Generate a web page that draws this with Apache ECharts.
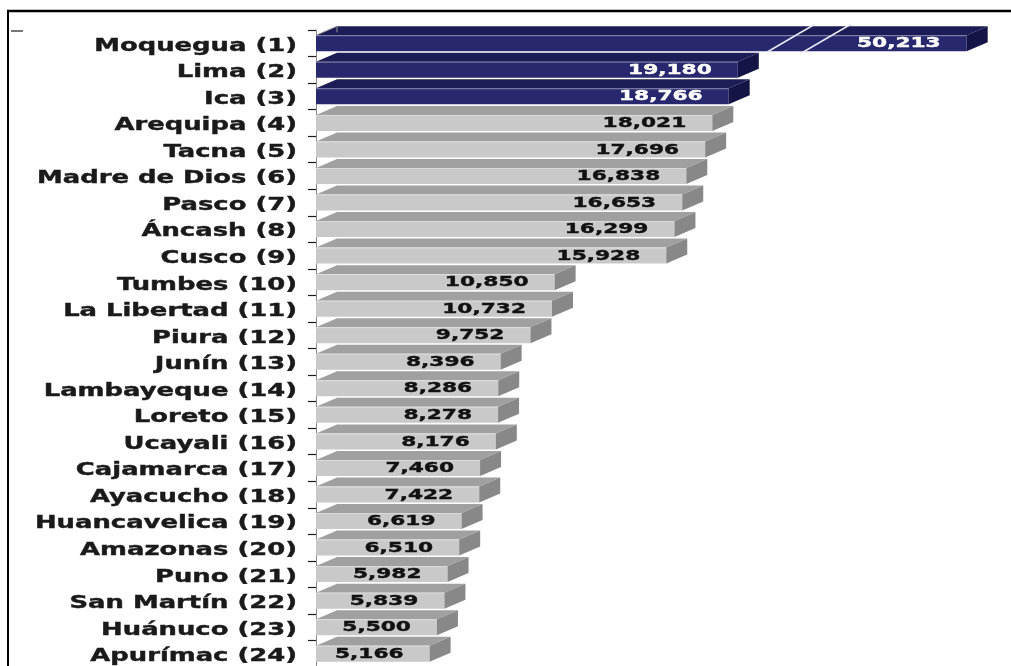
<!DOCTYPE html>
<html><head><meta charset="utf-8">
<script src="https://cdn.jsdelivr.net/npm/echarts@6/dist/echarts.min.js"></script>
<style>html,body{margin:0;padding:0;background:#fff}#c{width:1011px;height:666px}</style>
</head><body><div id="c"></div><script>
const categories = ['Moquegua (1)','Lima (2)','Ica (3)','Arequipa (4)','Tacna (5)','Madre de Dios (6)','Pasco (7)','Áncash (8)','Cusco (9)','Tumbes (10)','La Libertad (11)','Piura (12)','Junín (13)','Lambayeque (14)','Loreto (15)','Ucayali (16)','Cajamarca (17)','Ayacucho (18)','Huancavelica (19)','Amazonas (20)','Puno (21)','San Martín (22)','Huánuco (23)','Apurímac (24)'];
const values = [50213,19180,18766,18021,17696,16838,16653,16299,15928,10850,10732,9752,8396,8286,8278,8176,7460,7422,6619,6510,5982,5839,5500,5166];
const highlightCount = 3;
const axisBreak = {start: 20500, end: 42760, gap: 1636};
const axisMax = 52000;

const navy = {front:'#28286f', top:'#1c1c56', side:'#141446', text:'#ffffff'};
const gray = {front:'#c9c9c9', top:'#a0a0a0', side:'#888888', text:'#111111'};
const DX = 21, DY = 9, HF = 8;

function renderItem(params, api) {
  const v = api.value(0), i = api.value(1);
  const p0 = api.coord([0, i]);
  const p1 = api.coord([v, i]);
  const x0 = p0[0], x1 = p1[0], c = p0[1];
  const col = i < highlightCount ? navy : gray;
  const top = c - HF, bot = c + HF;
  const children = [
    {type:'polygon', shape:{points:[[x0,top],[x0+DX,top-DY],[x1+DX,top-DY],[x1,top]]}, style:{fill:col.top}},
    {type:'rect', shape:{x:x0, y:top, width:x1-x0, height:bot-top}, style:{fill:col.front}},
    {type:'polygon', shape:{points:[[x1,top],[x1+DX,top-DY],[x1+DX,bot-DY],[x1,bot]]}, style:{fill:col.side}},
    {type:'line', shape:{x1:x0, y1:top+0.5, x2:x1, y2:top+0.5}, style:{stroke:'rgba(255,255,255,0.35)', lineWidth:1}}
  ];
  if (i === 0) {
    children.push({type:'polyline', shape:{points:[[x0,top],[x0+DX,top-DY],[x0+DX,top-DY+6]]}, style:{stroke:'#9a9a9a', lineWidth:1, fill:null}});
  }
  if (v > axisBreak.end) {
    const xs = api.coord([axisBreak.start, i])[0];
    const xe = api.coord([axisBreak.end, i])[0];
    [xs, xe].forEach(function (xb) {
      children.push({type:'line', shape:{x1:xb, y1:bot+1, x2:xb+48, y2:top-DY-2}, style:{stroke:'#e8e8f4', lineWidth:1.5}});
    });
  }
  children.push({type:'text', x:x1-26, y:c+0.5, scaleX:1.55, style:{text:v.toLocaleString('en-US'), x:0, y:0, align:'right', verticalAlign:'middle', font:'bold 14px "DejaVu Sans"', fill:col.text, stroke:col.text, lineWidth:0.4}});
  children.push({type:'text', x:x0-19, y:c+3, scaleX:1.52, style:{text:categories[i], x:0, y:0, align:'right', verticalAlign:'middle', font:'bold 17px "DejaVu Sans"', fill:'#1a1a1a', stroke:'#1a1a1a', lineWidth:0.4}});
  return {type:'group', children: children};
}

const chart = echarts.init(document.getElementById('c'), null, {renderer:'canvas'});
chart.setOption({
  animation:false,
  backgroundColor:'#ffffff',
  grid:{left:316, top:30, width:690, height:637, outerBoundsMode:'none', containLabel:false},
  xAxis:{type:'value', min:0, max:axisMax, show:false, splitLine:{show:false},
    breaks:[{start:axisBreak.start, end:axisBreak.end, gap:axisBreak.gap}],
    breakArea:{show:false}},
  yAxis:{type:'category', data:categories, inverse:true,
    axisLine:{show:true, lineStyle:{color:'#8a8a8a', width:1}},
    axisTick:{show:true, length:8, lineStyle:{color:'#1a1a1a', width:1.2}},
    axisLabel:{show:false}, splitLine:{show:false}},
  graphic:[
    {type:'line', shape:{x1:7, y1:11, x2:1011, y2:11}, style:{stroke:'#000', lineWidth:2.5}},
    {type:'line', shape:{x1:8, y1:10, x2:8, y2:666}, style:{stroke:'#000', lineWidth:2}},
    {type:'line', shape:{x1:11, y1:31, x2:23, y2:31}, style:{stroke:'#777', lineWidth:2}}
  ],
  series:[{type:'custom', coordinateSystem:'cartesian2d', renderItem:renderItem, clip:false,
    encode:{x:0, y:1},
    data: values.map(function (v, i) { return [v, i]; })}]
});
</script></body></html>
